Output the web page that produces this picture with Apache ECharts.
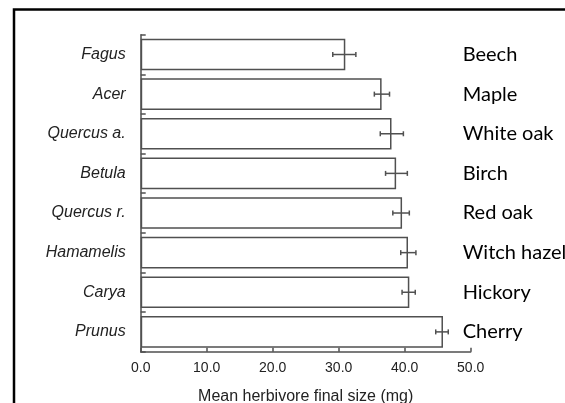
<!DOCTYPE html>
<html>
<head>
<meta charset="utf-8">
<script src="https://cdn.jsdelivr.net/npm/echarts@6/dist/echarts.min.js"></script>
<style>html,body{margin:0;padding:0;background:#fff}#c{width:565px;height:403px}</style>
</head>
<body>
<div id="c"></div>
<script>
// Data (top to bottom)
const genera = ['Fagus', 'Acer', 'Quercus a.', 'Betula', 'Quercus r.', 'Hamamelis', 'Carya', 'Prunus'];
const commonNames = ['Beech', 'Maple', 'White oak', 'Birch', 'Red oak', 'Witch hazel', 'Hickory', 'Cherry'];
const meanSize = [31.0, 36.5, 38.0, 38.7, 39.6, 40.5, 40.7, 45.8];
const errLow = [29.1, 35.4, 36.3, 37.1, 38.2, 39.4, 39.6, 44.7];
const errHigh = [32.6, 37.7, 39.8, 40.4, 40.7, 41.7, 41.6, 46.6];
const xTicks = [0, 10, 20, 30, 40, 50];

const errData = genera.map((g, i) => [i, errLow[i], errHigh[i]]);
const axisColor = '#505050';

const chart = echarts.init(document.getElementById('c'), null, {renderer: 'canvas'});
chart.setOption({
  animation: false,
  backgroundColor: '#fff',
  graphic: [{
    type: 'rect',
    shape: {x: 14, y: 9.5, width: 620, height: 500},
    style: {fill: 'none', stroke: '#000', lineWidth: 2.5},
    z: 100
  }],
  grid: {left: 140.7, right: 94.3, top: 34.7, bottom: 51.3, containLabel: false, outerBoundsMode: 'none'},
  xAxis: {
    type: 'value',
    min: xTicks[0], max: xTicks[xTicks.length - 1], interval: 10,
    name: 'Mean herbivore final size (mg)',
    nameLocation: 'middle', nameGap: 37,
    nameTextStyle: {fontFamily: 'Liberation Sans', fontSize: 16, color: '#222'},
    axisLine: {show: true, lineStyle: {color: axisColor, width: 1.5}},
    axisTick: {show: true, inside: true, length: 4, lineStyle: {color: axisColor, width: 1.5}},
    axisLabel: {fontFamily: 'Liberation Sans', fontSize: 14, color: '#222', margin: 9,
      formatter: v => v.toFixed(1)},
    splitLine: {show: false}
  },
  yAxis: [{
    type: 'category', data: genera, inverse: true,
    axisLine: {show: true, lineStyle: {color: axisColor, width: 1.5}},
    axisTick: {show: true, inside: true, length: 5, lineStyle: {color: axisColor, width: 1.5}},
    axisLabel: {fontFamily: 'Liberation Sans', fontStyle: 'italic', fontSize: 16, color: '#222', margin: 15}
  }, {
    type: 'category', data: commonNames, inverse: true, position: 'right', offset: -8,
    axisLine: {show: false}, axisTick: {show: false},
    axisLabel: {fontFamily: 'Lato', fontSize: 20, color: '#000', margin: 0, align: 'left',
      padding: [0, 0, 2, 0], hideOverlap: false}
  }],
  series: [{
    type: 'bar', data: meanSize, yAxisIndex: 0,
    barCategoryGap: '20%',
    itemStyle: {color: '#fff', borderColor: axisColor, borderWidth: 1.5},
    z: 2
  }, {
    type: 'custom', yAxisIndex: 0, data: errData,
    renderItem: function (params, api) {
      const idx = api.value(0);
      const lo = api.coord([api.value(1), idx]);
      const hi = api.coord([api.value(2), idx]);
      const cap = 2.5;
      const st = {stroke: axisColor, lineWidth: 1.5};
      return {
        type: 'group',
        children: [
          {type: 'line', shape: {x1: lo[0], y1: lo[1], x2: hi[0], y2: hi[1]}, style: st},
          {type: 'line', shape: {x1: lo[0], y1: lo[1] - cap, x2: lo[0], y2: lo[1] + cap}, style: st},
          {type: 'line', shape: {x1: hi[0], y1: hi[1] - cap, x2: hi[0], y2: hi[1] + cap}, style: st}
        ]
      };
    },
    encode: {x: [1, 2], y: 0},
    z: 3
  }]
});
</script>
</body>
</html>
